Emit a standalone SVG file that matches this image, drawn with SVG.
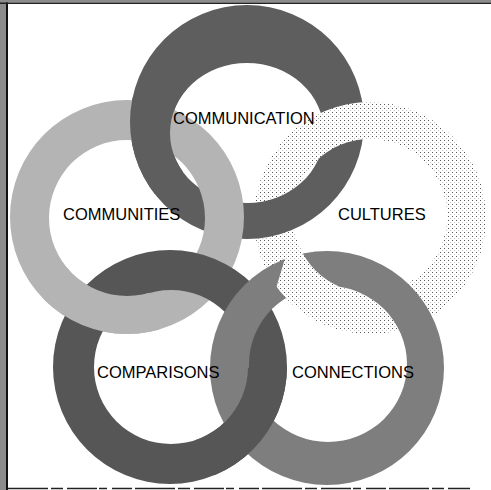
<svg xmlns="http://www.w3.org/2000/svg" xmlns:xlink="http://www.w3.org/1999/xlink" width="491" height="490" viewBox="0 0 491 490">
  <style>
    .lbl { font-family: "Liberation Sans", Arial, sans-serif; font-size: 16.5px; fill: #000; }
    .ring { fill-rule: evenodd; }
    .comm { fill: #5e5e5e; }
    .cmty { fill: #b4b4b4; }
    .cult { fill: url(#dots); }
    .comp { fill: #565656; }
    .conn { fill: #7e7e7e; }
  </style>
  <defs>
    <pattern id="dots" width="4" height="4" patternUnits="userSpaceOnUse">
      <rect width="4" height="4" fill="#ffffff"/>
      <rect x="0" y="0" width="1" height="1" fill="#555555"/>
      <rect x="2" y="2" width="1" height="1" fill="#c4c4c4"/>
    </pattern>
    <path id="r-communication" class="ring" d="M130,122 a117,117 0 1 0 234,0 a117,117 0 1 0 -234,0 Z M170,133 a77,70 0 1 0 154,0 a77,70 0 1 0 -154,0 Z"/>
    <path id="r-communities" class="ring" d="M10,217 a117,117 0 1 0 234,0 a117,117 0 1 0 -234,0 Z M49,218 a78,78 0 1 0 156,0 a78,78 0 1 0 -156,0 Z"/>
    <path id="r-cultures" class="ring" d="M254,218 a116,116 0 1 0 232,0 a116,116 0 1 0 -232,0 Z M293,216 a77,77 0 1 0 154,0 a77,77 0 1 0 -154,0 Z"/>
    <path id="r-comparisons" class="ring" d="M53,367 a117,117 0 1 0 234,0 a117,117 0 1 0 -234,0 Z M94,367 a77,77 0 1 0 154,0 a77,77 0 1 0 -154,0 Z"/>
    <path id="r-connections" class="ring" d="M210,368 a117,117 0 1 0 234,0 a117,117 0 1 0 -234,0 Z M249,364 a79,78 0 1 0 158,0 a79,78 0 1 0 -158,0 Z"/>
    <clipPath id="c-a"><polygon points="269,139 348,201 405,131 326,70"/></clipPath>
    <clipPath id="c-b"><polygon points="148,200 226,138 170,68 92,130"/></clipPath>
    <clipPath id="c-c"><polygon points="140,262 165,350 70,365 40,290 80,255"/></clipPath>
    <clipPath id="c-d"><polygon points="195,367.5 305,368 305,475 195,475"/></clipPath>
    <clipPath id="c-e"><polygon points="340,322 357,264 289,245 272,302"/></clipPath>
  </defs>

  <rect width="491" height="490" fill="#ffffff"/>

  <g id="frame">
    <rect x="0" y="0" width="6" height="490" fill="#8c8c8c"/>
    <rect x="6" y="0" width="2" height="490" fill="#111"/>
    <rect x="0" y="0" width="491" height="2.5" fill="#8c8c8c"/>
    <rect x="0" y="2.5" width="491" height="1.5" fill="#222"/>
    <line x1="8" y1="488.5" x2="470" y2="488.5" stroke="#222" stroke-width="1.5" stroke-dasharray="40 3 12 4 30 2 8 5 20 3"/>
  </g>

  <g id="cultures">
    <use xlink:href="#r-cultures" class="cult"/>
  </g>
  <g id="communication">
    <use xlink:href="#r-communication" class="comm"/>
  </g>
  <g id="communities">
    <use xlink:href="#r-communities" class="cmty"/>
  </g>
  <g id="comparisons">
    <use xlink:href="#r-comparisons" class="comp"/>
  </g>
  <g id="connections">
    <use xlink:href="#r-connections" class="conn"/>
  </g>

  <g id="interlocks">
    <use xlink:href="#r-cultures" class="cult" clip-path="url(#c-a)"/>
    <use xlink:href="#r-communication" class="comm" clip-path="url(#c-b)"/>
    <use xlink:href="#r-communities" class="cmty" clip-path="url(#c-c)"/>
    <use xlink:href="#r-comparisons" class="comp" clip-path="url(#c-d)"/>
    <use xlink:href="#r-cultures" class="cult" clip-path="url(#c-e)"/>
  </g>

  <g id="labels">
    <text class="lbl" x="173" y="124">COMMUNICATION</text>
    <text class="lbl" x="63" y="220">COMMUNITIES</text>
    <text class="lbl" x="338" y="220">CULTURES</text>
    <text class="lbl" x="97" y="378">COMPARISONS</text>
    <text class="lbl" x="292" y="378">CONNECTIONS</text>
  </g>
</svg>
